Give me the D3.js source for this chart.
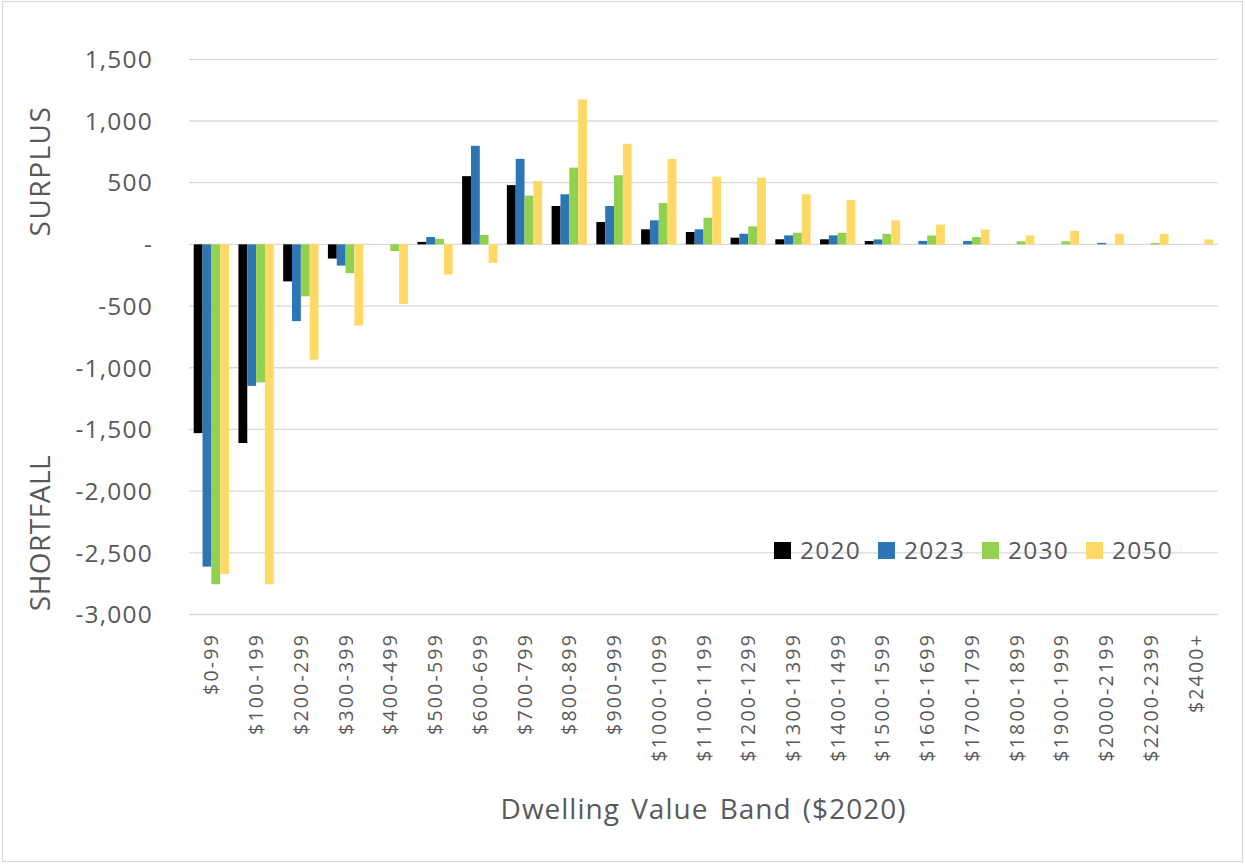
<!DOCTYPE html>
<html>
<head>
<meta charset="utf-8">
<script src="https://cdn.jsdelivr.net/npm/d3@7"></script>
<style>
  html, body { margin: 0; padding: 0; background: #ffffff; }
  svg { display: block; }
  text { font-family: "Open Sans", "DejaVu Sans", sans-serif; fill: #595959; }
</style>
</head>
<body>
<svg id="chart" width="1245" height="864"></svg>
<script>
// Dwelling value bands ($2020)
const categories = [
  "$0-99", "$100-199", "$200-299", "$300-399", "$400-499", "$500-599",
  "$600-699", "$700-799", "$800-899", "$900-999", "$1000-1099", "$1100-1199",
  "$1200-1299", "$1300-1399", "$1400-1499", "$1500-1599", "$1600-1699",
  "$1700-1799", "$1800-1899", "$1900-1999", "$2000-2199", "$2200-2399", "$2400+"
];

const seriesNames = ["2020", "2023", "2030", "2050"];
const seriesColors = ["#000000", "#2e75b6", "#92d050", "#ffd966"];

// Surplus (+) / shortfall (-) of dwellings per band
const values2020 = [-1530, -1610, -300, -115, 0, 20, 553, 480, 311, 181, 122, 100, 54, 41, 41, 27, 0, 0, 0, 0, 0, 0, 0];
const values2023 = [-2612, -1147, -622, -172, 0, 60, 799, 693, 406, 311, 195, 122, 86, 73, 73, 40, 28, 28, 0, 0, 12, 0, 0];
const values2030 = [-2755, -1119, -421, -233, -54, 45, 76, 395, 622, 560, 335, 216, 146, 94, 94, 85, 72, 60, 25, 25, 0, 12, 0];
const values2050 = [-2671, -2755, -935, -658, -483, -244, -149, 515, 1175, 815, 692, 549, 541, 406, 360, 195, 160, 120, 72, 110, 85, 85, 40];

const yTicks = [1500, 1000, 500, 0, -500, -1000, -1500, -2000, -2500, -3000];

const seriesValues = [values2020, values2023, values2030, values2050];

const svg = d3.select("#chart");

// outer chart frame
svg.append("rect")
  .attr("x", 2.5).attr("y", 1.5)
  .attr("width", 1240).attr("height", 860)
  .attr("fill", "#ffffff")
  .attr("stroke", "#d9d9d9").attr("stroke-width", 1.2);

const plot = { left: 189, right: 1218, top: 59.3, bottom: 614.5 };

const y = d3.scaleLinear().domain([-3000, 1500]).range([plot.bottom, plot.top]);

const x = d3.scaleBand()
  .domain(categories)
  .range([plot.left, plot.right])
  .paddingInner(0.21)
  .paddingOuter(0.105);

const xInner = d3.scaleBand()
  .domain(seriesNames)
  .range([0, x.bandwidth()]);

// accounting-style numbers: thousands separators, plain hyphen, dash for zero
const locale = d3.formatLocale({ decimal: ".", thousands: ",", grouping: [3], currency: ["$", ""], minus: "-" });
const fmt = locale.format(",");
const tickLabel = v => v === 0 ? "-" : fmt(v);

// horizontal gridlines
svg.append("g")
  .selectAll("line")
  .data(yTicks)
  .join("line")
  .attr("x1", plot.left).attr("x2", plot.right)
  .attr("y1", d => y(d)).attr("y2", d => y(d))
  .attr("stroke", "#d9d9d9").attr("stroke-width", 1.3);

// y axis tick labels
svg.append("g")
  .selectAll("text")
  .data(yTicks)
  .join("text")
  .attr("x", 153)
  .attr("y", d => y(d))
  .attr("dy", "0.36em")
  .attr("text-anchor", "end")
  .style("font-size", "24.5px")
  .style("letter-spacing", "1.2px")
  .text(tickLabel);

// bars
const rows = categories.map((c, i) => ({ cat: c, vals: seriesValues.map(s => s[i]) }));

const groups = svg.append("g")
  .selectAll("g")
  .data(rows)
  .join("g")
  .attr("transform", d => `translate(${x(d.cat)},0)`);

groups.selectAll("rect")
  .data(d => d.vals.map((v, k) => ({ name: seriesNames[k], v, color: seriesColors[k] })))
  .join("rect")
  .attr("x", d => xInner(d.name))
  .attr("width", xInner.bandwidth())
  .attr("y", d => Math.min(y(d.v), y(0)))
  .attr("height", d => Math.abs(y(d.v) - y(0)))
  .attr("fill", d => d.color);

// category labels (rotated)
svg.append("g")
  .selectAll("text")
  .data(categories)
  .join("text")
  .attr("transform", d => `translate(${x(d) + x.bandwidth() / 2},633) rotate(-90)`)
  .attr("text-anchor", "end")
  .attr("dy", "0.36em")
  .style("font-size", "19.5px")
  .style("letter-spacing", "2.2px")
  .text(d => d);

// x axis title
svg.append("text")
  .attr("x", (plot.left + plot.right) / 2)
  .attr("y", 819)
  .attr("text-anchor", "middle")
  .style("font-size", "28px")
  .style("letter-spacing", "1px")
  .style("word-spacing", "3px")
  .text("Dwelling Value Band ($2020)");

// side annotations
svg.append("text")
  .attr("transform", "translate(40,171) rotate(-90)")
  .attr("text-anchor", "middle")
  .attr("dy", "0.36em")
  .style("font-size", "28px")
  .style("letter-spacing", "1.5px")
  .text("SURPLUS");

svg.append("text")
  .attr("transform", "translate(40,533) rotate(-90)")
  .attr("text-anchor", "middle")
  .attr("dy", "0.36em")
  .style("font-size", "28px")
  .style("letter-spacing", "0.5px")
  .text("SHORTFALL");

// legend
const legend = svg.append("g")
  .selectAll("g")
  .data(seriesNames)
  .join("g")
  .attr("transform", (d, i) => `translate(${774 + i * 104},542)`);

legend.append("rect")
  .attr("width", 17).attr("height", 17)
  .attr("fill", (d, i) => seriesColors[i]);

legend.append("text")
  .attr("x", 26).attr("y", 8.5)
  .attr("dy", "0.36em")
  .style("font-size", "24.5px")
  .style("letter-spacing", "1.2px")
  .text(d => d);
</script>
</body>
</html>
